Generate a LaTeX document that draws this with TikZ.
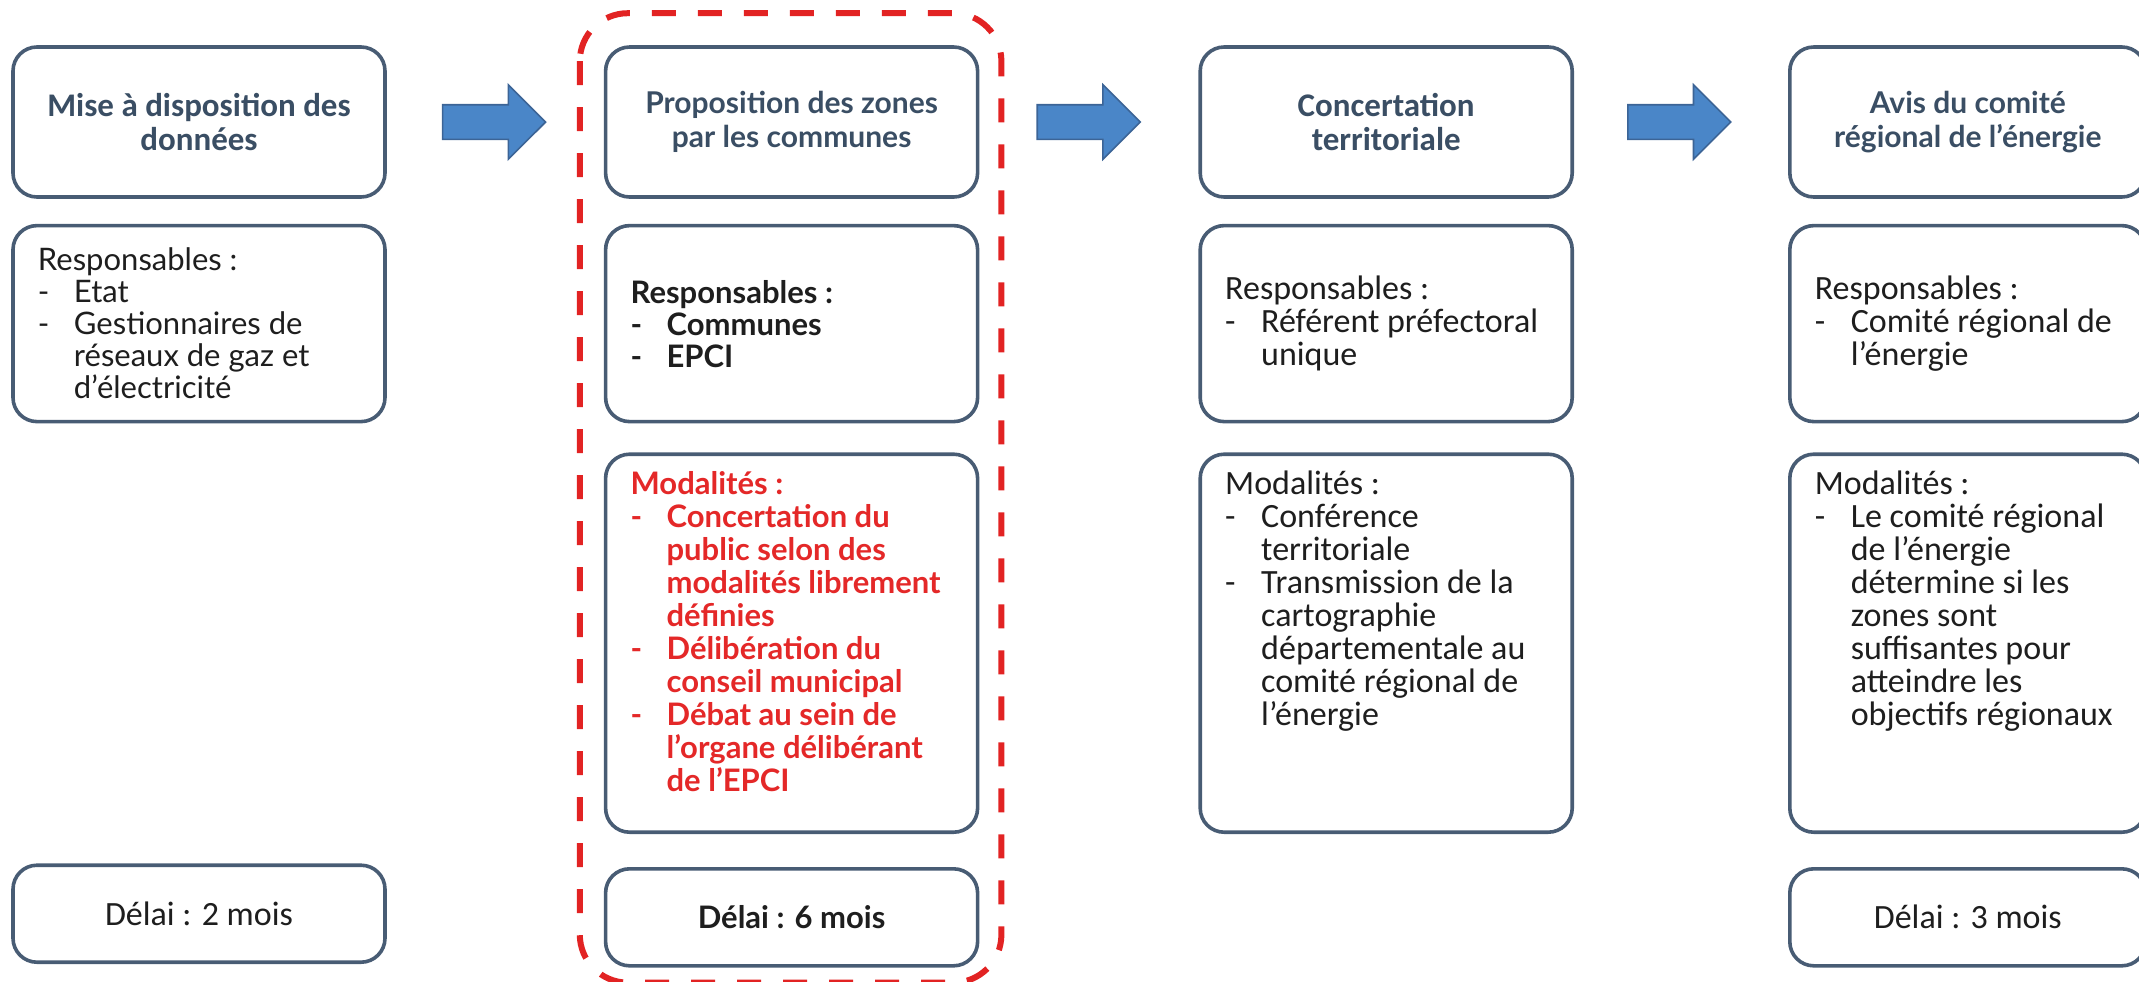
\documentclass[tikz,border=0pt]{standalone}
\usepackage{fontspec}
\setmainfont{Lato}
\newfontfamily\calfont{Carlito}
\usetikzlibrary{positioning,shapes.arrows,calc}

\definecolor{boxline}{RGB}{72,92,116}
\definecolor{titleblue}{RGB}{58,78,100}
\definecolor{arrowfill}{RGB}{74,134,200}
\definecolor{arrowline}{RGB}{60,100,150}
\definecolor{zonered}{RGB}{226,35,35}
\definecolor{textred}{RGB}{228,40,40}
\definecolor{bodytext}{RGB}{30,30,30}

\newcommand{\dsh}{\makebox[18pt][l]{-}}
\newcommand{\ind}{\hspace*{18pt}}
\newcommand{\topfill}[2]{\parbox[c][172pt][t]{#1}{\raggedright #2}}

\tikzset{
    stepbox/.style={draw=boxline, line width=1.8pt, rounded corners=12pt, fill=white, minimum width=186pt, inner xsep=12.5pt, inner ysep=8.5pt, text=bodytext},
    titlebox/.style={stepbox, minimum height=75pt, align=flush center, font=\fontsize{15}{17}\selectfont\bfseries, text=titleblue},
    respbox/.style={stepbox, minimum height=98pt, text width=161pt, align=flush left},
    modbox/.style={stepbox, minimum height=189pt},
    delaibox/.style={stepbox, minimum height=48.5pt, align=flush center},
    latobody/.style={font=\fontsize{15.5}{16}\selectfont},
    latobold/.style={font=\fontsize{15.5}{16}\selectfont\bfseries},
    calbody/.style={font=\fontsize{17}{16.5}\selectfont\calfont},
    caltitle/.style={font=\fontsize{16.5}{17}\selectfont\bfseries\calfont},
    flow/.style={single arrow, draw=arrowline, fill=arrowfill, line width=0.8pt, minimum height=51.5pt, inner sep=8.25pt, single arrow head extend=10pt},
    zone/.style={draw=zonered, line width=3pt, dash pattern=on 12pt off 11pt, rounded corners=24pt}
}

\begin{document}
\begin{tikzpicture}
    \useasboundingbox (-99.5pt,-429.5pt) rectangle (970pt,61pt);

    % Etape 1
    \node[titlebox, caltitle] (t1) {Mise à disposition des\\données};
    \node[respbox, latobody, below=12.5pt of t1] (r1) {Responsables :\\
        \dsh Etat\\
        \dsh Gestionnaires de\\
        \ind réseaux de gaz et\\
        \ind d’électricité};
    \node[delaibox, calbody, below=220pt of r1] (d1) {Délai : 2 mois};

    \node[flow, right=27.5pt of t1] (a1) {};

    % Etape 2
    \node[titlebox, right=108.5pt of t1] (t2) {Proposition des zones\\par les communes};
    \node[respbox, latobold, below=12.5pt of t2] (r2) {Responsables :\\
        \dsh Communes\\
        \dsh EPCI};
    \node[modbox, font=\fontsize{15.5}{16.5}\selectfont\bfseries, text=textred, below=14.5pt of r2] (m2) {\topfill{161pt}{Modalités :\\
        \dsh Concertation du\\
        \ind public selon des\\
        \ind modalités librement\\
        \ind définies\\
        \dsh Délibération du\\
        \ind conseil municipal\\
        \dsh Débat au sein de\\
        \ind l’organe délibérant\\
        \ind de l’EPCI}};
    \node[delaibox, latobold, below=16.5pt of m2] (d2) {Délai : 6 mois};

    \draw[zone] ($(t2.north west)+(-12pt,16pt)$) rectangle ($(d2.south east)+(11pt,-7.5pt)$);

    \node[flow, right=28.5pt of t2] (a2) {};

    % Etape 3
    \node[titlebox, caltitle, right=109.5pt of t2] (t3) {Concertation\\territoriale};
    \node[respbox, calbody, below=12.5pt of t3] (r3) {Responsables :\\
        \dsh Référent préfectoral\\
        \ind unique};
    \node[modbox, calbody, below=14.5pt of r3] (m3) {\topfill{161pt}{Modalités :\\
        \dsh Conférence\\
        \ind territoriale\\
        \dsh Transmission de la\\
        \ind cartographie\\
        \ind départementale au\\
        \ind comité régional de\\
        \ind l’énergie}};

    \node[flow, right=26.5pt of t3] (a3) {};

    % Etape 4
    \node[titlebox, minimum width=178pt, right=107pt of t3] (t4) {Avis du comité\\régional de l’énergie};
    \node[respbox, calbody, minimum width=178pt, text width=153pt, below=12.5pt of t4] (r4) {Responsables :\\
        \dsh Comité régional de\\
        \ind l’énergie};
    \node[modbox, calbody, minimum width=178pt, below=14.5pt of r4] (m4) {\topfill{153pt}{Modalités :\\
        \dsh Le comité régional\\
        \ind de l’énergie\\
        \ind détermine si les\\
        \ind zones sont\\
        \ind suffisantes pour\\
        \ind atteindre les\\
        \ind objectifs régionaux}};
    \node[delaibox, calbody, minimum width=178pt, below=16.5pt of m4] (d4) {Délai : 3 mois};
\end{tikzpicture}
\end{document}
